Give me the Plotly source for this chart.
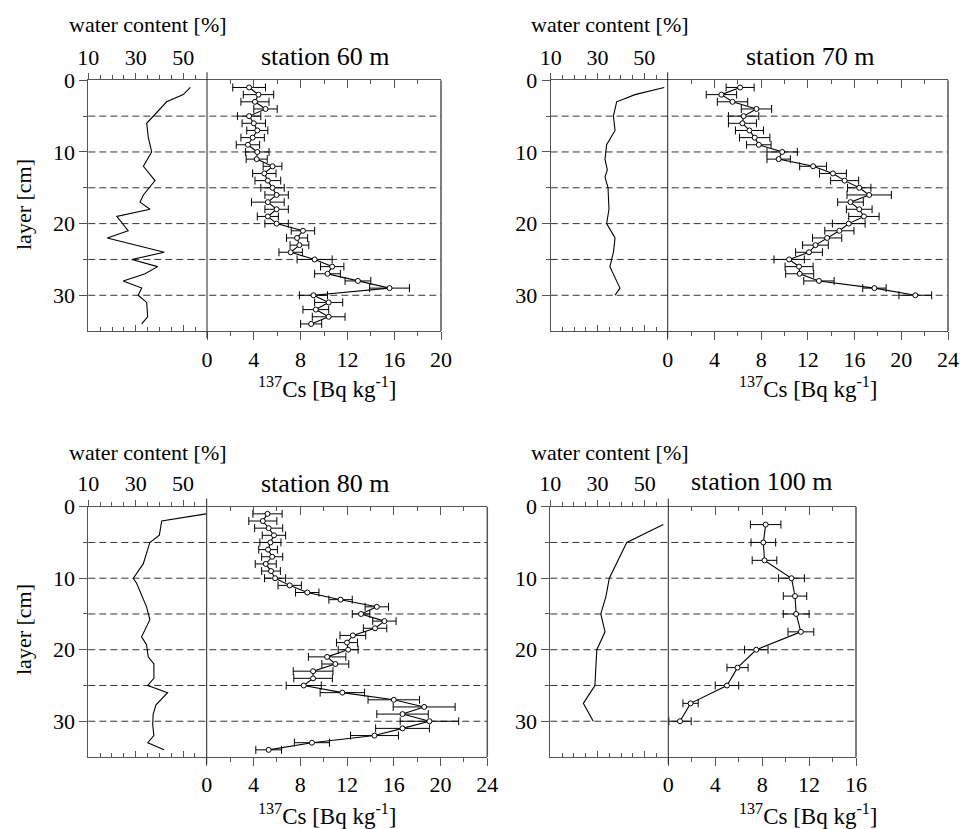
import plotly.graph_objects as go

# ---------------- data ----------------
# station 60 m
wd60 = [1, 2, 3, 6, 8, 10, 12, 14, 16, 17, 18, 19, 21, 22, 24, 25, 26, 27, 28, 29, 30, 31, 33, 34]
wv60 = [53, 50, 43, 34.6, 35.3, 36.7, 33.2, 38.1, 33.2, 31.8, 36, 22, 26.8, 18, 42, 28.3, 39.2, 33.9, 24.7, 32.5, 31, 34.6, 35, 32.5]
cd60 = list(range(1, 35))
cs60 = [3.6, 4.4, 4.1, 5.0, 3.6, 4.0, 4.3, 3.9, 3.5, 4.3, 4.25, 5.6, 4.9, 5.2, 5.6, 5.95, 5.2, 5.95, 5.2, 5.95,
        8.2, 7.7, 7.9, 7.15, 9.2, 10.7, 10.3, 12.9, 15.6, 9.1, 10.4, 9.3, 10.4, 8.9]
ce60 = [1.4, 1.3, 1.2, 1.0, 1.0, 1.0, 0.9, 1.0, 1.0, 1.0, 0.9, 0.8, 1.0, 1.1, 1.0, 1.0, 1.4, 1.0, 0.9, 1.0,
        1.0, 0.9, 0.8, 1.0, 1.5, 1.0, 1.1, 1.1, 1.7, 1.2, 1.2, 1.1, 1.4, 0.9]

# station 70 m
wd70 = [1, 2, 3, 5, 7, 9, 11, 12.5, 13.5, 15, 18, 20, 22, 24, 26, 29, 30]
wv70 = [58.5, 46, 38.2, 36.8, 37.5, 33.9, 33.2, 34.2, 33.2, 34.5, 34.9, 33.9, 37.5, 36.8, 35.3, 39.6, 37.5]
cd70 = list(range(1, 31))
cs70 = [6.2, 4.6, 5.55, 7.6, 6.5, 6.4, 7.0, 7.45, 7.8, 9.8, 9.5, 12.45, 14.15, 15.15, 16.4, 17.25, 15.65, 16.4,
        16.8, 15.5, 14.7, 13.65, 12.65, 12.1, 10.4, 11.25, 11.3, 12.95, 17.7, 21.2]
ce70 = [1.2, 1.3, 1.3, 1.3, 1.3, 1.2, 1.2, 1.3, 1.05, 1.3, 1.0, 1.15, 1.15, 1.2, 1.0, 1.9, 1.1, 1.1, 1.3, 1.4,
        1.25, 1.25, 1.1, 1.15, 1.3, 1.2, 1.2, 1.3, 1.0, 1.4]

# station 80 m
wd80 = [1, 2, 4, 5, 8, 10, 10.7, 14, 15.8, 18.2, 19.3, 21, 22, 24, 25, 26, 27.7, 29, 30.5, 32, 33, 34]
wv80 = [59.7, 41, 40, 36, 33.2, 29, 30.4, 34.6, 36, 32.5, 34.6, 35.3, 37.7, 37.7, 35.1, 43.5, 38.6, 37.4, 37.2, 37.7, 35.1, 42]
cd80 = list(range(1, 35))
cs80 = [5.2, 4.8, 5.3, 5.75, 5.45, 5.25, 5.6, 5.05, 5.5, 5.85, 7.1, 8.6, 11.45, 14.55, 13.2, 15.2, 14.4, 12.5,
        12.0, 12.1, 10.3, 11.0, 9.1, 9.1, 8.3, 11.6, 16.0, 18.6, 16.75, 19.05, 16.75, 14.35, 9.0, 5.3]
ce80 = [1.25, 1.2, 1.2, 1.0, 0.9, 0.8, 0.9, 0.9, 0.8, 0.9, 1.0, 1.0, 1.0, 1.0, 0.75, 1.0, 1.0, 1.1, 0.9, 0.85,
        1.6, 1.15, 1.7, 1.65, 1.5, 1.9, 2.2, 2.65, 2.2, 2.5, 2.3, 2.05, 1.5, 1.1]

# station 100 m
wd100 = [2.5, 5, 10, 12.5, 15, 17.5, 20, 25, 27.5, 30]
wv100 = [57.9, 42.4, 35.0, 33.6, 31.4, 33.2, 29.7, 28.9, 24.0, 28.2]
cd100 = [2.5, 5, 7.5, 10, 12.5, 15, 17.5, 20, 22.5, 25, 27.5, 30]
cs100 = [8.3, 8.1, 8.2, 10.5, 10.8, 10.9, 11.3, 7.5, 5.9, 5.0, 1.9, 1.0]
ce100 = [1.3, 1.05, 1.05, 1.1, 1.0, 1.1, 1.1, 1.0, 0.9, 1.0, 0.65, 0.95]

titles = ["station 60 m", "station 70 m", "station 80 m", "station 100 m"]
cs_max = [20, 24, 24, 16]
depth_ticks = [0, 10, 20, 30]
water_ticks = [10, 30, 50]
water_minor = [15, 20, 25, 35, 40, 45, 55]

# ---------------- layout geometry (window pixels) ----------------
W, H = 960, 829
panels = [
    dict(wd=wd60, wv=wv60, cd=cd60, cv=cs60, ce=ce60, xw=(88.3, 207.0), xc=(207.0, 441.0), yd=(80.3, 331.1),
         title=(325, 56), wlab=(148, 24), clab=(327, 388), layer=(23, 205)),
    dict(wd=wd70, wv=wv70, cd=cd70, cv=cs70, ce=ce70, xw=(550.7, 667.7), xc=(667.7, 948.0), yd=(80.3, 331.1),
         title=(810, 56), wlab=(610, 24), clab=(808, 388), layer=None),
    dict(wd=wd80, wv=wv80, cd=cd80, cv=cs80, ce=ce80, xw=(88.3, 206.7), xc=(206.7, 487.3), yd=(506.7, 757.0),
         title=(325, 483), wlab=(148, 452), clab=(327, 814), layer=(23, 630)),
    dict(wd=wd100, wv=wv100, cd=cd100, cv=cs100, ce=ce100, xw=(550.3, 668.3), xc=(668.3, 856.0), yd=(506.7, 757.0),
         title=(762, 481), wlab=(610, 452), clab=(808, 814), layer=None),
]

FONT = "Liberation Serif, Times New Roman, Tinos, DejaVu Serif, serif"
AX = "#555555"


def fx(p):
    return p / W


def fy(p):
    return 1 - p / H


def key(letter, n):
    return f"{letter}axis" + ("" if n == 1 else str(n))


def ref(letter, n):
    return letter + ("" if n == 1 else str(n))


fig = go.Figure()
layout = {}
shapes = []
annotations = []

for i, p in enumerate(panels):
    yid = i + 1
    xw, xwb, xc, xct = 4 * i + 1, 4 * i + 2, 4 * i + 3, 4 * i + 4
    ydom = [fy(p["yd"][1]), fy(p["yd"][0])]
    wdom = [fx(p["xw"][0]), fx(p["xw"][1])]
    cdom = [fx(p["xc"][0]), fx(p["xc"][1])]
    cmax = cs_max[i]
    common = dict(showgrid=False, zeroline=False, showline=True, linecolor=AX, linewidth=1,
                  tickcolor=AX, tickwidth=1, fixedrange=True, automargin=False,
                  tickfont=dict(family=FONT, size=22, color="black"))

    layout[key("y", yid)] = dict(common, domain=ydom, anchor=ref("x", xw), range=[35, 0],
                                 tickmode="array", tickvals=depth_ticks, ticks="outside", ticklen=8,
                                 minor=dict(tickmode="array", tickvals=[5, 15, 25], ticks="outside",
                                            ticklen=4, tickcolor=AX))
    layout[key("x", xw)] = dict(common, domain=wdom, anchor=ref("y", yid), side="top", range=[10, 60],
                                tickmode="array", tickvals=water_ticks,
                                ticks="outside", ticklen=6,
                                minor=dict(tickmode="array", tickvals=water_minor, ticks="outside",
                                           ticklen=4, tickcolor=AX))
    layout[key("x", xwb)] = dict(common, domain=wdom, anchor=ref("y", yid), side="bottom", range=[10, 60],
                                 overlaying=ref("x", xw), showticklabels=False,
                                 tickmode="array", tickvals=water_ticks, ticks="inside", ticklen=6,
                                 minor=dict(tickmode="array", tickvals=water_minor, ticks="inside",
                                            ticklen=4, tickcolor=AX))
    major = list(range(0, cmax + 1, 4))
    minor = list(range(2, cmax, 4))
    layout[key("x", xc)] = dict(common, domain=cdom, anchor=ref("y", yid), side="bottom", range=[0, cmax],
                                tickmode="array", tickvals=major, ticks="outside", ticklen=8,
                                minor=dict(tickmode="array", tickvals=minor, ticks="outside",
                                           ticklen=4, tickcolor=AX))
    layout[key("x", xct)] = dict(common, domain=cdom, anchor=ref("y", yid), side="top", range=[0, cmax],
                                 overlaying=ref("x", xc), showticklabels=False,
                                 tickmode="array", tickvals=major, ticks="inside", ticklen=8,
                                 minor=dict(tickmode="array", tickvals=minor, ticks="inside",
                                            ticklen=4, tickcolor=AX))

    # water content profile
    fig.add_trace(go.Scatter(x=p["wv"], y=p["wd"], mode="lines", line=dict(color="black", width=1.1),
                             xaxis=ref("x", xw), yaxis=ref("y", yid), hoverinfo="skip"))
    # Cs profile
    fig.add_trace(go.Scatter(x=p["cv"], y=p["cd"], mode="lines+markers",
                             line=dict(color="black", width=1.1),
                             marker=dict(symbol="circle", size=5, color="white",
                                         line=dict(color="black", width=1)),
                             error_x=dict(type="data", array=p["ce"], color="black", thickness=1, width=4),
                             xaxis=ref("x", xc), yaxis=ref("y", yid), cliponaxis=False))
    # placeholder traces so the overlay axes are drawn
    fig.add_trace(go.Scatter(x=[None], y=[None], mode="markers", xaxis=ref("x", xwb), yaxis=ref("y", yid),
                             hoverinfo="skip"))
    fig.add_trace(go.Scatter(x=[None], y=[None], mode="markers", xaxis=ref("x", xct), yaxis=ref("y", yid),
                             hoverinfo="skip"))

    # dashed layer lines
    for d in [5, 10, 15, 20, 25, 30]:
        shapes.append(dict(type="line", xref="paper", yref=ref("y", yid), x0=wdom[0], x1=cdom[1], y0=d, y1=d,
                           line=dict(color="#333333", width=1, dash="7px,4px"), layer="below"))
    # right border
    shapes.append(dict(type="line", xref="paper", yref="paper", x0=cdom[1], x1=cdom[1], y0=ydom[0], y1=ydom[1],
                       line=dict(color=AX, width=1.5)))
    # zero line of Cs axis
    shapes.append(dict(type="line", xref="paper", yref="paper", x0=cdom[0], x1=cdom[0],
                       y0=ydom[0] - 7 / H, y1=ydom[1] + 8 / H, line=dict(color="#222222", width=1)))

    annotations.append(dict(text=titles[i], x=fx(p["title"][0]), y=fy(p["title"][1]), xref="paper", yref="paper",
                            showarrow=False, xanchor="center", yanchor="middle",
                            font=dict(family=FONT, size=26, color="black")))
    annotations.append(dict(text="water content [%]", x=fx(p["wlab"][0]), y=fy(p["wlab"][1]), xref="paper",
                            yref="paper", showarrow=False, xanchor="center", yanchor="middle",
                            font=dict(family=FONT, size=22, color="black")))
    annotations.append(dict(text="<sup>137</sup>Cs [Bq kg<sup>-1</sup>]", x=fx(p["clab"][0]), y=fy(p["clab"][1]),
                            xref="paper", yref="paper", showarrow=False, xanchor="center", yanchor="middle",
                            font=dict(family=FONT, size=23, color="black")))
    if p["layer"]:
        annotations.append(dict(text="layer [cm]", x=fx(p["layer"][0]), y=fy(p["layer"][1]), xref="paper",
                                yref="paper", showarrow=False, xanchor="center", yanchor="middle", textangle=-90,
                                font=dict(family=FONT, size=22, color="black")))

fig.update_layout(**layout)
fig.update_layout(template="none", width=W, height=H,
                  margin=dict(l=0, r=0, t=0, b=0, pad=0, autoexpand=False), showlegend=False,
                  paper_bgcolor="white", plot_bgcolor="rgba(0,0,0,0)",
                  shapes=shapes, annotations=annotations,
                  font=dict(family=FONT, size=22, color="black"))
fig.write_html("out.html", config={"displayModeBar": False},
               post_script="document.body.style.margin='0';document.body.style.overflow='hidden';")
